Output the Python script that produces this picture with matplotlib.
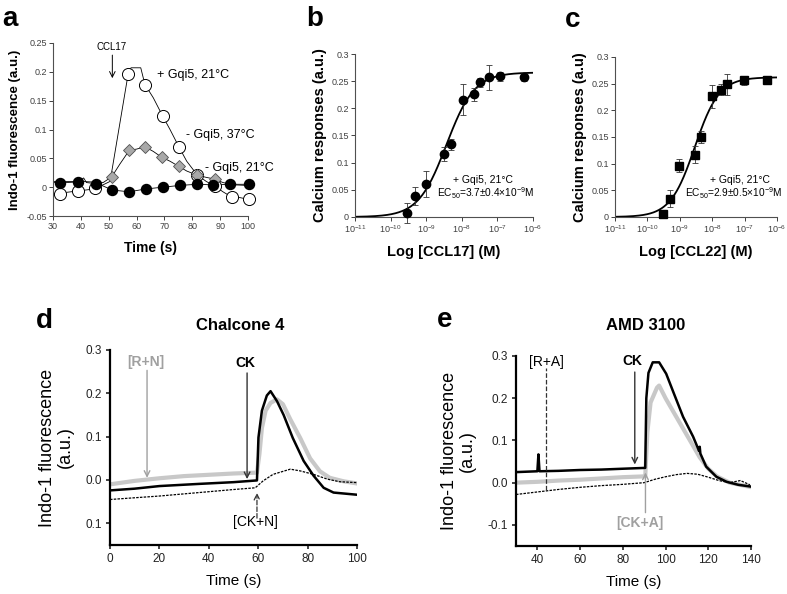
import numpy as np
import matplotlib
matplotlib.use("Agg")
from matplotlib import pyplot as plt
from matplotlib.ticker import LogFormatterSciNotation

plt.rcParams['font.family'] = ['Liberation Sans', 'DejaVu Sans']
plt.rcParams['mathtext.default'] = 'regular'
plt.rcParams['axes.unicode_minus'] = False

# ---- panel a: CCL17 traces ----
a_open_t = [30, 33, 40, 45, 50.5, 57, 58, 61.5, 63, 66, 69.4, 72, 75.3, 78, 81.8, 85, 88, 91, 94.1, 97, 100]
a_open_y = [-0.012, -0.01, -0.006, -0.003, 0.01, 0.197, 0.207, 0.207, 0.178, 0.155, 0.123, 0.1, 0.069,
            0.045, 0.021, 0.01, 0.002, -0.008, -0.017, -0.018, -0.021]
a_open_mt = [32.5, 38.8, 45.2, 57, 63, 69.4, 75.3, 81.8, 88, 94.1, 100.4]
a_open_my = [-0.011, -0.006, -0.002, 0.197, 0.178, 0.123, 0.069, 0.021, 0.002, -0.017, -0.021]

a_diam_t = [30, 40, 48, 51.1, 54, 57.4, 60, 63, 66, 69, 72, 75.2, 78, 81.6, 85, 88.1, 91, 95, 100]
a_diam_y = [0.01, 0.01, 0.008, 0.018, 0.04, 0.064, 0.066, 0.07, 0.062, 0.052, 0.045, 0.036, 0.028,
            0.021, 0.017, 0.014, 0.008, 0.004, 0.003]
a_diam_mt = [51.1, 57.4, 63.0, 69.0, 75.2, 81.6, 88.1]
a_diam_my = [0.018, 0.064, 0.070, 0.052, 0.036, 0.021, 0.014]

a_black_t = [30, 32.4, 39, 41, 42, 45.5, 48, 51.3, 57.3, 63.5, 69.5, 75.5, 81.7, 87.5, 93.4, 100]
a_black_y = [0.008, 0.0075, 0.009, 0.016, 0.008, 0.006, 0.002, -0.005, -0.008, -0.003, 0.0, 0.003,
             0.005, 0.004, 0.005, 0.005]
a_black_mt = [32.4, 39, 45.5, 51.3, 57.3, 63.5, 69.5, 75.5, 81.7, 87.5, 93.4, 100.3]
a_black_my = [0.0075, 0.009, 0.006, -0.005, -0.008, -0.003, 0.0, 0.003, 0.005, 0.004, 0.005, 0.005]

# ---- panel b: CCL17 dose response ----
b_logc = [-9.53, -9.31, -9.0, -8.51, -8.30, -7.98, -7.67, -7.48, -7.25, -6.94, -6.26]
b_resp = [0.007, 0.039, 0.060, 0.116, 0.134, 0.216, 0.226, 0.248, 0.257, 0.259, 0.258]
b_err = [0.018, 0.016, 0.024, 0.013, 0.010, 0.028, 0.012, 0.008, 0.023, 0.008, 0.007]
b_ec50, b_top, b_hill = 3.7e-9, 0.266, 1.1

# ---- panel c: CCL22 dose response ----
c_logc = [-9.53, -9.30, -9.02, -8.53, -8.35, -8.0, -7.72, -7.53, -7.01, -6.31]
c_resp = [0.005, 0.034, 0.096, 0.117, 0.150, 0.226, 0.239, 0.249, 0.256, 0.257]
c_err = [0.006, 0.016, 0.012, 0.016, 0.012, 0.021, 0.010, 0.020, 0.008, 0.008]
c_ec50, c_top, c_hill = 2.9e-9, 0.262, 1.15

# ---- panel d: Chalcone 4 ----
d_gray_t = [0, 10, 20, 30, 40, 50, 59.5, 60.5, 61.5, 63, 65, 67.6, 70, 73, 77, 81, 85, 89, 94.6, 100]
d_gray_y = [-0.010, -0.002, 0.004, 0.009, 0.012, 0.015, 0.017, 0.06, 0.12, 0.16, 0.178, 0.186, 0.175,
            0.14, 0.097, 0.05, 0.02, 0.005, -0.003, -0.008]
d_black_t = [0, 10, 20, 36, 50, 59.5, 60.1, 61.5, 63.5, 65, 67.6, 70.3, 74, 78.4, 82.4, 86.5, 90.5, 100]
d_black_y = [-0.024, -0.02, -0.014, -0.009, -0.005, -0.001, 0.098, 0.16, 0.195, 0.205, 0.182, 0.15,
             0.097, 0.044, 0.01, -0.018, -0.029, -0.034]
d_dash_t = [0, 10, 20, 36, 50, 58.8, 62, 66, 73, 77, 82.4, 88, 93, 100]
d_dash_y = [-0.045, -0.041, -0.037, -0.029, -0.022, -0.018, -0.002, 0.013, 0.025, 0.021, 0.013, 0.002,
            -0.004, -0.006]

# ---- panel e: AMD 3100 ----
e_black_t = [30, 40, 40.5, 41, 50, 60, 70, 80, 90.5, 91, 92, 94, 97, 100.3, 104, 108.2, 112.9, 115.7,
             116, 116.3, 119, 123.8, 128.6, 134, 139.5]
e_black_y = [0.025, 0.027, 0.067, 0.027, 0.028, 0.030, 0.031, 0.033, 0.035, 0.20, 0.26, 0.285, 0.285,
             0.258, 0.21, 0.156, 0.109, 0.075, 0.085, 0.069, 0.038, 0.014, 0.002, -0.005, -0.009]
e_gray_t = [30, 40, 50, 60, 70, 80, 90.5, 91.5, 93, 96, 97, 100, 104, 108, 112, 116, 120, 124, 130, 139.5]
e_gray_y = [0.0, 0.002, 0.005, 0.007, 0.010, 0.013, 0.015, 0.12, 0.19, 0.225, 0.23, 0.2, 0.165, 0.13,
            0.095, 0.06, 0.033, 0.015, 0.0, -0.01]
e_dash_t = [30, 40, 50, 60, 70, 80, 90, 95, 100, 105, 110, 115, 120, 125, 130, 135, 139.5]
e_dash_y = [-0.028, -0.022, -0.016, -0.011, -0.007, -0.004, 0.0, 0.008, 0.014, 0.019, 0.022, 0.02,
            0.013, 0.005, 0.0, 0.005, -0.005]

decades = [1e-11, 1e-10, 1e-9, 1e-8, 1e-7, 1e-6]

W, H = 787, 594
fig = plt.figure(figsize=(7.87, 5.94), dpi=100)


def add_ax(x0, y0, x1, y1):
    # pixel box (left, top, right, bottom) -> figure fraction
    return fig.add_axes([x0 / W, 1 - y1 / H, (x1 - x0) / W, (y1 - y0) / H])


def style_small(ax):
    for s in ['top', 'right']:
        ax.spines[s].set_visible(False)
    for s in ['left', 'bottom']:
        ax.spines[s].set_color('#505050')
        ax.spines[s].set_linewidth(0.8)
    ax.tick_params(labelsize=6.5, colors='#404040', length=3, width=0.7, pad=1.5)


def style_big(ax):
    for s in ['top', 'right']:
        ax.spines[s].set_visible(False)
    for s in ['left', 'bottom']:
        ax.spines[s].set_linewidth(1.6)
    ax.tick_params(labelsize=8.5, colors='#222222', length=3, width=1.2, pad=3)


def hill(c, ec50, top, n):
    return top / (1 + (ec50 / c) ** n)


def log_axis(ax):
    ax.set_xscale('log')
    ax.set_xlim(1e-11, 1e-6)
    ax.set_xticks(decades)
    ax.xaxis.set_major_formatter(LogFormatterSciNotation())
    ax.minorticks_off()
    ax.set_ylim(0, 0.3)
    ax.set_yticks([0, 0.05, 0.1, 0.15, 0.2, 0.25, 0.3])
    ax.set_yticklabels(['0', '0.05', '0.1', '0.15', '0.2', '0.25', '0.3'])


# panel a
ax = add_ax(53, 43, 248, 216)
style_small(ax)
ax.plot(a_open_t, a_open_y, color='black', lw=0.6, zorder=2)
ax.plot(a_diam_t, a_diam_y, color='black', lw=0.6, zorder=2)
ax.plot(a_black_t, a_black_y, color='black', lw=0.6, zorder=2)
ax.plot(a_open_mt, a_open_my, 'o', ms=8.7, mfc='white', mec='black', mew=0.7, zorder=3, clip_on=False)
ax.plot(a_diam_mt, a_diam_my, 'D', ms=5.8, mfc='#a8a8a8', mec='#505050', mew=0.6, zorder=4, clip_on=False)
ax.plot(a_black_mt, a_black_my, 'o', ms=7.2, mfc='black', mec='black', zorder=5, clip_on=False)
ax.set_xlim(30, 100)
ax.set_ylim(-0.05, 0.25)
ax.set_xticks(range(30, 101, 10))
ax.set_yticks([-0.05, 0, 0.05, 0.1, 0.15, 0.2, 0.25])
ax.set_yticklabels(['-0.05', '0', '0.05', '0.1', '0.15', '0.2', '0.25'])
ax.set_xlabel('Time (s)', fontsize=10, fontweight='bold', labelpad=7)
ax.set_ylabel('Indo-1 fluorescence (a.u.)', fontsize=9.5, fontweight='bold', labelpad=4)
ax.annotate('', xy=(51.3, 0.189), xytext=(51.3, 0.229),
            arrowprops=dict(arrowstyle='->', lw=0.7, color='black', shrinkA=0, shrinkB=0))
ax.text(51.1, 0.2436, 'CCL17', fontsize=7, ha='center', va='center')
ax.text(67.3, 0.194, '+ Gqi5, 21°C', fontsize=9, ha='left', va='center')
ax.text(77.6, 0.091, '- Gqi5, 37°C', fontsize=9, ha='left', va='center')
ax.text(84.6, 0.034, '- Gqi5, 21°C', fontsize=9, ha='left', va='center', clip_on=False)

# panel b
conc = np.logspace(-11, -6, 300)
ax = add_ax(355, 54, 533, 217)
style_small(ax)
ax.plot(conc, hill(conc, b_ec50, b_top, b_hill), color='black', lw=1.3, zorder=2)
ax.errorbar(10 ** np.array(b_logc), b_resp, yerr=b_err, fmt='o', ms=6, color='black', ecolor='#333333',
            elinewidth=0.6, capsize=2, capthick=0.6, zorder=3, clip_on=False)
log_axis(ax)
ax.set_xlabel('Log [CCL17] (M)', fontsize=10.5, fontweight='bold', labelpad=7)
ax.set_ylabel('Calcium responses (a.u.)', fontsize=10.5, fontweight='bold', labelpad=3)
ax.text(0.72, 0.23, '+ Gqi5, 21°C', transform=ax.transAxes, fontsize=7.5, ha='center', va='center')
ax.text(0.46, 0.145, 'EC$_{50}$=3.7±0.4×10$^{-9}$M', transform=ax.transAxes, fontsize=7.3,
        ha='left', va='center', clip_on=False)

# panel c
ax = add_ax(615, 57, 777, 217)
style_small(ax)
ax.plot(conc, hill(conc, c_ec50, c_top, c_hill), color='black', lw=1.3, zorder=2)
ax.errorbar(10 ** np.array(c_logc), c_resp, yerr=c_err, fmt='s', ms=5.5, color='black', ecolor='#333333',
            elinewidth=0.6, capsize=2, capthick=0.6, zorder=3, clip_on=False)
log_axis(ax)
ax.set_xlabel('Log [CCL22] (M)', fontsize=10.5, fontweight='bold', labelpad=7)
ax.set_ylabel('Calcium responses (a.u)', fontsize=10.5, fontweight='bold', labelpad=3)
ax.text(0.77, 0.23, '+ Gqi5, 21°C', transform=ax.transAxes, fontsize=7.5, ha='center', va='center')
ax.text(0.43, 0.15, 'EC$_{50}$=2.9±0.5×10$^{-9}$M', transform=ax.transAxes, fontsize=7.3,
        ha='left', va='center', clip_on=False)

# panel d
ax = add_ax(110, 350, 357, 545)
style_big(ax)
ax.plot(d_gray_t, d_gray_y, color='#c8c8c8', lw=3, zorder=2)
ax.plot(d_black_t, d_black_y, color='black', lw=1.8, zorder=3)
ax.plot(d_dash_t, d_dash_y, color='black', lw=0.9, ls=(0, (2, 1)), zorder=3)
ax.set_xlim(0, 100)
ax.set_ylim(-0.15, 0.3)
ax.set_xticks(range(0, 101, 20))
ax.set_yticks([-0.1, 0.0, 0.1, 0.2, 0.3])
ax.set_yticklabels(['0.1', '0.0', '0.1', '0.2', '0.3'])
ax.set_xlabel('Time (s)', fontsize=11, labelpad=6)
ax.set_ylabel('Indo-1 fluorescence\n(a.u.)', fontsize=13, labelpad=8, linespacing=1.1)
ax.annotate('', xy=(15, 0.005), xytext=(15, 0.253),
            arrowprops=dict(arrowstyle='->', lw=1.0, color='#a0a0a0', shrinkA=0, shrinkB=0))
ax.text(14.6, 0.272, '[R+N]', fontsize=10, color='#a0a0a0', ha='center', va='center', fontweight='bold')
ax.annotate('', xy=(55.5, 0.002), xytext=(55.5, 0.247),
            arrowprops=dict(arrowstyle='->', lw=1.0, color='#333333', shrinkA=0, shrinkB=0))
ax.text(54.7, 0.27, 'CK', fontsize=10, color='black', ha='center', va='center', fontweight='bold')
ax.annotate('', xy=(59.5, -0.03), xytext=(59.5, -0.088),
            arrowprops=dict(arrowstyle='->', lw=0.9, color='#333333', ls='--', shrinkA=0, shrinkB=0))
ax.text(59, -0.098, '[CK+N]', fontsize=10, color='black', ha='center', va='center')

# panel e
ax = add_ax(516, 356, 751, 546)
style_big(ax)
ax.plot(e_gray_t, e_gray_y, color='#c8c8c8', lw=3, zorder=2)
ax.plot(e_black_t, e_black_y, color='black', lw=1.8, zorder=3)
ax.plot(e_dash_t, e_dash_y, color='black', lw=0.9, ls=(0, (2, 1)), zorder=3)
ax.set_xlim(30, 140)
ax.set_ylim(-0.15, 0.3)
ax.set_xticks(range(40, 141, 20))
ax.set_yticks([-0.1, 0.0, 0.1, 0.2, 0.3])
ax.set_yticklabels(['-0.1', '0.0', '0.1', '0.2', '0.3'])
ax.set_xlabel('Time (s)', fontsize=11, labelpad=6)
ax.set_ylabel('Indo-1 fluorescence\n(a.u.)', fontsize=13, labelpad=8, linespacing=1.1)
ax.plot([44.2, 44.2], [-0.017, 0.272], color='#333333', lw=0.9, ls='--', zorder=4)
ax.text(44.2, 0.286, '[R+A]', fontsize=10, color='black', ha='center', va='center')
ax.annotate('', xy=(85.6, 0.043), xytext=(85.6, 0.262),
            arrowprops=dict(arrowstyle='->', lw=1.0, color='#333333', shrinkA=0, shrinkB=0))
ax.text(84.6, 0.288, 'CK', fontsize=10, color='black', ha='center', va='center', fontweight='bold')
ax.annotate('', xy=(90.6, 0.024), xytext=(90.6, -0.071),
            arrowprops=dict(arrowstyle='->', lw=1.0, color='#a0a0a0', shrinkA=0, shrinkB=0))
ax.text(87.9, -0.095, '[CK+A]', fontsize=10, color='#a0a0a0', ha='center', va='center', fontweight='bold')

# panel letters and titles
for letter, x, y in [('a', 10, 19), ('b', 315, 19), ('c', 573, 20), ('d', 44, 321), ('e', 445, 320)]:
    fig.text(x / W, 1 - y / H, letter, fontsize=20, fontweight='bold', ha='center', va='center')
fig.text(240 / W, 1 - 325 / H, 'Chalcone 4', fontsize=12, fontweight='bold', ha='center', va='center')
fig.text(646 / W, 1 - 325 / H, 'AMD 3100', fontsize=12, fontweight='bold', ha='center', va='center')

plt.savefig("out.png", dpi=100)
